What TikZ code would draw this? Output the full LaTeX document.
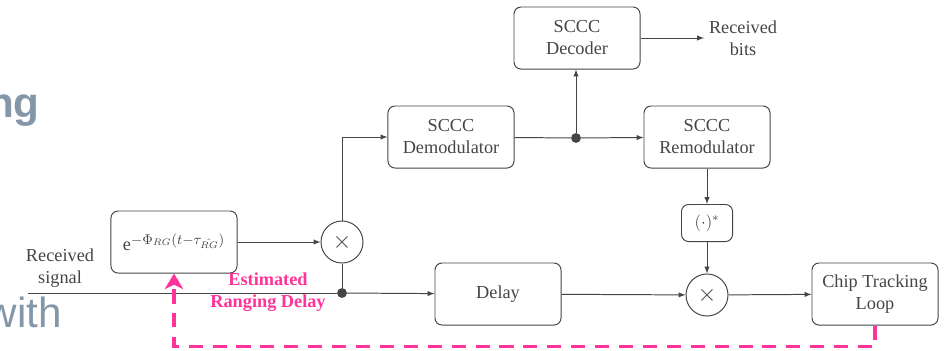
\documentclass[tikz,border=0pt]{standalone}
\usepackage{fontspec}
\usepackage{graphicx}
\setmainfont{Liberation Serif}
\newfontfamily\titrefont{Liberation Sans}
\usetikzlibrary{arrows.meta}

\definecolor{traitgris}{HTML}{454545}
\definecolor{rose}{HTML}{FF3399}
\definecolor{titregris}{HTML}{8397A8}

\newcommand{\tailletexte}{\fontsize{13}{15.6}\selectfont}

\tikzset{
  bloc/.style={draw=traitgris,line width=0.7pt,rounded corners=5pt,text=traitgris,align=center,minimum width=3.15cm,minimum height=1.55cm},
  mult/.style={draw=traitgris,line width=0.7pt,circle,minimum size=1.05cm,inner sep=0pt,text=traitgris,font=\fontsize{18}{20}\selectfont},
  jonction/.style={circle,fill=traitgris,inner sep=0pt,minimum size=7pt},
  legende/.style={text=traitgris,align=center},
  lien/.style={draw=traitgris,line width=0.7pt},
  boucle/.style={draw=rose,line width=2.2pt,dash pattern=on 10pt off 7pt,-{Stealth[length=11pt,width=13pt,inset=3pt]}},
}

\begin{document}
\begin{tikzpicture}[x=0.025cm,y=-0.025cm,font=\tailletexte]
        \useasboundingbox (0,0) rectangle (944,350);
        % slide title fragments behind the diagram
        \node[text=titregris,font=\titrefont\bfseries\fontsize{30}{36}\selectfont,anchor=base east,inner sep=0pt] (titre) at (40,117) {ng};
        \node[text=titregris,font=\titrefont\fontsize{30}{36}\selectfont,anchor=base east,inner sep=0pt] (sous) at (62,327) {with};
        % input
        \node[legende] (recu) at (60,268) {Received\\signal};
        \coordinate (entree) at (28,293);
        \node[bloc] (expo) at (174,242) {$\mathrm{e}^{\scalebox{1.12}{$\scriptstyle-\Phi_{RG}(t-\tau_{\hat{RG}})$}}$};
        \node[mult] (mx1) at (342,242) {$\times$};
        \node[jonction] (j1) at (342,293) {};
        % upper branch
        \node[bloc] (demod) at (451,137) {SCCC\\Demodulator};
        \node[jonction] (j2) at (576,138) {};
        \node[bloc] (dec) at (577,38) {SCCC\\Decoder};
        \node[legende] (bits) at (743,38) {Received\\bits};
        \node[bloc] (remod) at (707,137) {SCCC\\Remodulator};
        \node[bloc,minimum width=1.275cm,minimum height=0.925cm] (conj) at (707,223) {$(\cdot)^*$};
        % lower branch
        \node[bloc] (delay) at (498,294) {Delay};
        \node[mult] (mx2) at (707,295) {$\times$};
        \node[bloc] (ctl) at (875,294) {Chip Tracking\\Loop};
        \node[text=rose,font=\tailletexte\bfseries,align=center] (est) at (268,292) {Estimated\\Ranging Delay};

        \draw[lien] (entree) -- (j1);
        \draw[lien,->,>=latex] (j1) -- (delay);
        \draw[lien] (j1) -- (mx1);
        \draw[lien,->,>=latex] (expo) -- (mx1);
        \draw[lien,->,>=latex] (mx1.north) |- (demod.west);
        \draw[lien] (demod) -- (j2);
        \draw[lien,->,>=latex] (j2) -- (remod);
        \draw[lien,->,>=latex] (j2) -- (j2 |- dec.south);
        \draw[lien,->,>=latex] (dec) -- (bits);
        \draw[lien,->,>=latex] (remod) -- (conj);
        \draw[lien,->,>=latex] (conj) -- (mx2);
        \draw[lien,->,>=latex] (delay) -- (mx2);
        \draw[lien,->,>=latex] (mx2) -- (ctl);
        % feedback of the delay estimate
        \draw[boucle] (ctl.south) -- ++(0,21) -| (expo.south);
\end{tikzpicture}
\end{document}
